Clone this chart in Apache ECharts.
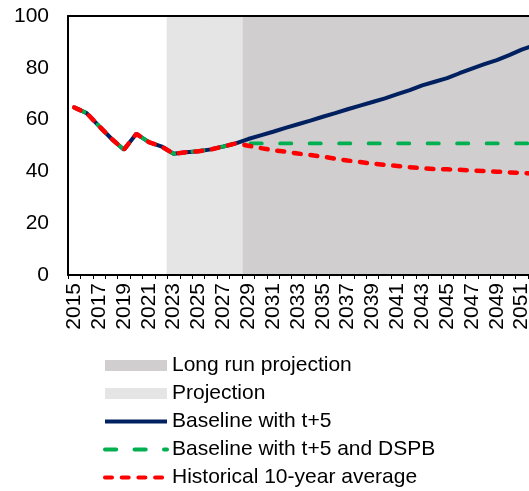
<!DOCTYPE html>
<html>
<head>
<meta charset="utf-8">
<script src="https://cdn.jsdelivr.net/npm/echarts@6/dist/echarts.min.js"></script>
<style>
html,body{margin:0;padding:0;background:#fff;overflow:hidden;}
#c{width:541px;height:491px;}
</style>
</head>
<body>
<div id="c"></div>
<script>
var years = [];
for (var y = 2015; y <= 2052; y++) years.push(String(y));

var pastValues = [64.7, 62.5, 57.5, 52.6, 48.4, 54.5, 51.3, 49.7, 46.8, 47.4, 47.8, 48.5, 49.6, 50.8];

var baselineProj = [52.5, 53.9, 55.3, 56.8, 58.2, 59.6, 61.1, 62.5, 64.0, 65.4, 66.8, 68.2,
  69.8, 71.4, 73.2, 74.6, 76.0, 77.9, 79.7, 81.4, 83.0, 84.9, 87.0, 88.7];
var dspbProj = [50.8, 50.8, 50.8, 50.8, 50.8, 50.8, 50.8, 50.8, 50.8, 50.8, 50.8, 50.8,
  50.8, 50.8, 50.8, 50.8, 50.8, 50.8, 50.8, 50.8, 50.8, 50.8, 50.8, 50.8];
var histAvgProj = [49.9, 49.0, 48.2, 47.6, 46.9, 46.3, 45.7, 44.9, 44.2, 43.6, 43.0, 42.5,
  42.1, 41.6, 41.2, 40.9, 40.8, 40.6, 40.4, 40.1, 39.9, 39.6, 39.4, 39.2];

var projectionBand = [null, null, null, null, null, null, null, null, 100, 100, 100, 100, 100, 100,
  null, null, null, null, null, null, null, null, null, null, null, null, null, null, null, null,
  null, null, null, null, null, null, null, null];
var longRunBand = [null, null, null, null, null, null, null, null, null, null, null, null, null, null,
  100, 100, 100, 100, 100, 100, 100, 100, 100, 100, 100, 100, 100, 100, 100, 100,
  100, 100, 100, 100, 100, 100, 100, 100];

var baseline = pastValues.concat(baselineProj);
var dspb = pastValues.concat(dspbProj);
var histAvg = pastValues.concat(histAvgProj);

var FONT = 'Liberation Sans, Arial, sans-serif';
var chart = echarts.init(document.getElementById('c'), null, {renderer: 'canvas'});
chart.setOption({
  animation: false,
  backgroundColor: '#fff',
  grid: {left: 68, top: 16, right: 0.7, bottom: 216, containLabel: false},
  legend: {
    orient: 'vertical',
    left: 103,
    top: 355,
    padding: 0,
    itemWidth: 62,
    itemHeight: 11,
    itemGap: 7,
    lineStyle: {width: 4},
    textStyle: {fontFamily: FONT, fontSize: 21, color: '#000'},
    data: [
      {name: 'Long run projection', icon: 'rect'},
      {name: 'Projection', icon: 'rect'},
      {name: 'Baseline with t+5', itemStyle: {opacity: 0}},
      {name: 'Baseline with t+5 and DSPB', itemStyle: {opacity: 0}},
      {name: 'Historical 10-year average', itemStyle: {opacity: 0}}
    ]
  },
  xAxis: [{
    type: 'category',
    data: years,
    boundaryGap: true,
    z: 10,
    axisLine: {show: true, lineStyle: {color: '#000', width: 2}},
    axisTick: {show: true, interval: 0, length: 4, inside: false, lineStyle: {color: '#000', width: 1}},
    axisLabel: {interval: 1, rotate: 90, margin: 8, color: '#000', fontFamily: FONT, fontSize: 21}
  }, {
    type: 'category',
    data: years,
    position: 'top',
    z: 10,
    axisLine: {show: true, lineStyle: {color: '#000', width: 2}},
    axisTick: {show: false},
    axisLabel: {show: false}
  }],
  yAxis: {
    type: 'value',
    min: 0, max: 100, interval: 20,
    z: 10,
    axisLine: {show: true, lineStyle: {color: '#000', width: 2}},
    axisTick: {show: false},
    splitLine: {show: false},
    axisLabel: {margin: 19, color: '#000', fontFamily: FONT, fontSize: 21}
  },
  series: [
    {name: 'Long run projection', type: 'bar', data: longRunBand, barGap: '-100%', barWidth: 14,
      itemStyle: {color: '#D0CECE'}, silent: true},
    {name: 'Projection', type: 'bar', data: projectionBand, barGap: '-100%', barWidth: 14,
      itemStyle: {color: '#E5E5E5'}, silent: true},
    {name: 'Baseline with t+5', type: 'line', data: baseline, symbol: 'none', z: 3,
      itemStyle: {color: '#002060'},
      lineStyle: {color: '#002060', width: 4}},
    {name: 'Baseline with t+5 and DSPB', type: 'line', data: dspb, symbol: 'none', z: 4,
      itemStyle: {color: '#00B050'},
      lineStyle: {color: '#00B050', width: 3.8, type: [11.2, 18.3], cap: 'round'}},
    {name: 'Historical 10-year average', type: 'line', data: histAvg, symbol: 'none', z: 5,
      itemStyle: {color: '#FF0000'},
      lineStyle: {color: '#FF0000', width: 4.5, type: [7, 9.7], cap: 'round'}}
  ]
});
</script>
</body>
</html>
